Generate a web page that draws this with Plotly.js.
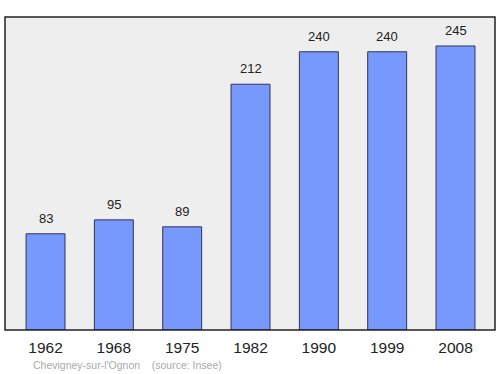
<!DOCTYPE html>
<html><head><meta charset="utf-8">
<script src="https://cdn.plot.ly/plotly-3.0.1.min.js"></script>
<style>html,body{margin:0;padding:0;background:#fff}#c{width:500px;height:374px}</style>
</head><body><div id="c"></div>
<script>
const years = ["1962","1968","1975","1982","1990","1999","2008"];
const population = [83, 95, 89, 212, 240, 240, 245];
const sourceText = "Chevigney-sur-l'Ognon    (source: Insee)";

const idx = years.map((_, i) => i);
const trace = {
  type: 'bar', x: idx, y: population, width: 0.57,
  marker: {color: '#7799ff', line: {color: '#333355', width: 1}},
  hoverinfo: 'skip'
};
const annotations = population.map((v, i) => ({
  x: i, y: v, text: String(v), showarrow: false, yanchor: 'bottom', yshift: 6,
  font: {family: 'Liberation Sans, Arial, sans-serif', size: 13, color: '#222'}
}));
annotations.push({
  xref: 'paper', yref: 'paper', x: 0.053, y: -0.112, xanchor: 'left', yanchor: 'middle',
  text: sourceText, showarrow: false,
  font: {family: 'Liberation Sans, Arial, sans-serif', size: 10.5, color: '#aaaaaa'}
});
const layout = {
  width: 500, height: 374,
  margin: {l: 5, r: 5, t: 17, b: 44},
  paper_bgcolor: '#fff', plot_bgcolor: '#eeeeee',
  showlegend: false,
  xaxis: {range: [-0.593, 6.578], tickvals: idx, ticktext: years, showgrid: false, zeroline: false,
    ticks: '', ticklabelstandoff: 6,
    tickfont: {family: 'Liberation Sans, Arial, sans-serif', size: 15.5, color: '#222'}},
  yaxis: {range: [0, 270], showticklabels: false, showgrid: false, zeroline: false, ticks: ''},
  shapes: [{type: 'rect', xref: 'paper', yref: 'paper', x0: 0, x1: 1, y0: 0, y1: 1,
    line: {color: '#222', width: 1.5}}],
  annotations: annotations
};
Plotly.newPlot('c', [trace], layout, {staticPlot: true, displayModeBar: false});
</script></body></html>
